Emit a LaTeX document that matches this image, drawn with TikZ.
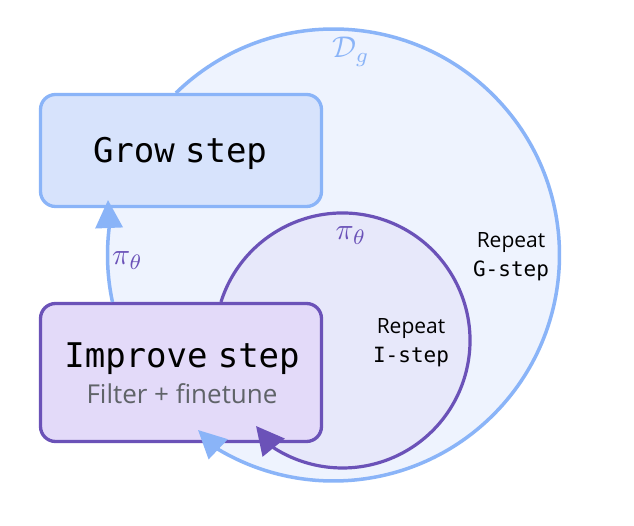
\documentclass[tikz,border=0pt]{standalone}
\usepackage{fontspec}
\newfontfamily\monofont{DejaVu Sans Mono}
\newfontfamily\uisans{Open Sans}
\usetikzlibrary{arrows.meta,calc}
\definecolor{outerline}{HTML}{8AB4F8}
\definecolor{outerfill}{HTML}{EEF3FE}
\definecolor{growfill}{HTML}{D7E3FC}
\definecolor{purpline}{HTML}{6B52B8}
\definecolor{impfill}{HTML}{E3DAF9}
\definecolor{innerfill}{HTML}{E7E8FA}
\definecolor{subgray}{HTML}{5F6368}
\tikzset{
  x=1pt,y=1pt,
  stepbox/.style={draw, rounded corners=15pt, line width=3.3pt, minimum width=281pt, inner sep=0pt},
  growbox/.style={stepbox, draw=outerline, fill=growfill, minimum height=112pt},
  impbox/.style={stepbox, draw=purpline, fill=impfill, minimum height=138pt},
  bigtitle/.style={anchor=base, inner sep=0pt, font=\monofont\fontsize{34}{38}\selectfont},
  subtitle/.style={anchor=base, inner sep=0pt, text=subgray, font=\uisans\fontsize{26}{30}\selectfont},
  sanslabel/.style={anchor=base, inner sep=0pt, font=\uisans\fontsize{21}{24}\selectfont},
  monolabel/.style={anchor=base, inner sep=0pt, font=\monofont\fontsize{21}{24}\selectfont},
  mathlabel/.style={anchor=base, inner sep=0pt, scale=3},
  bluearrow/.style={draw=outerline, line width=3.5pt, -{Triangle[length=28pt,width=27pt]}},
  purparrow/.style={draw=purpline, line width=3.2pt, -{Triangle[length=28pt,width=28pt]}}
}
\begin{document}
\begin{tikzpicture}
\useasboundingbox[fill=white] (0,0) rectangle (634,526);
% circle centres
\coordinate (O) at (333.5,271);
\coordinate (I) at (342.5,185.5);
% fills
\fill[outerfill] (O) circle[radius=226];
\fill[innerfill] (I) circle[radius=127.5];
% boxes
\node[growbox] (grow) at (181,375.5) {};
\node[impbox] (improve) at (181,153.5) {};
% texts
\node[bigtitle] (growtxt) at (180,363) {Grow\hspace{0.3em}step};
\node[bigtitle] (imptxt) at (182,158.3) {Improve\hspace{0.3em}step};
\node[subtitle] (imptxt2) at (182,122) {Filter + finetune};
\node[sanslabel] (rg1) at (511,278) {Repeat};
\node[monolabel] (rg2) at (511,249) {G-step};
\node[sanslabel] (ri1) at (411,192) {Repeat};
\node[monolabel] (ri2) at (411,163.3) {I-step};
\node[mathlabel, text=outerline] (dg) at (351,468) {$\mathcal{D}_g$};
\node[mathlabel, text=purpline] (pileft) at (127.5,261) {$\pi_\theta$};
\node[mathlabel, text=purpline] (piinner) at (351,286) {$\pi_\theta$};
% connector end points
\coordinate (gstart) at ($(O)+(134.2:226)$);
\coordinate (btip) at (198,96);
\coordinate (lstart) at ($(O)+(192:226)$);
\coordinate (ltip) at (108,326);
\coordinate (istart) at ($(I)+(162.4:127.5)$);
\coordinate (itip) at (256,100);
% outer loop: Grow -> Improve
\path[bluearrow] (gstart) arc[start angle=134.2, end angle=-120.6, radius=226] -- (btip);
% left: Improve -> Grow
\path[bluearrow] (lstart) arc[start angle=192, end angle=173.2, radius=226] -- (ltip);
% inner loop: Improve -> Improve
\path[purparrow] (istart) arc[start angle=162.4, end angle=-122.5, radius=127.5] -- (itip);
\end{tikzpicture}
\end{document}
